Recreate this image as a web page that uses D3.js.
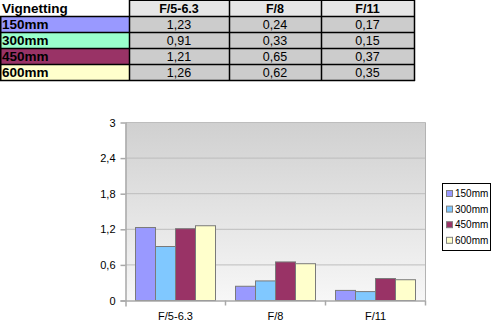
<!DOCTYPE html>
<html><head><meta charset="utf-8">
<script src="https://cdn.jsdelivr.net/npm/d3@7"></script>
<style>body{margin:0;background:#fff}svg{display:block}text{font-family:"Liberation Sans",Arial,sans-serif}</style>
</head><body>
<script>
const tableTitle = "Vignetting";
const categories = ["F/5-6.3", "F/8", "F/11"];
const seriesNames = ["150mm", "300mm", "450mm", "600mm"];
const values150 = [1.23, 0.24, 0.17];
const values300 = [0.91, 0.33, 0.15];
const values450 = [1.21, 0.65, 0.37];
const values600 = [1.26, 0.62, 0.35];
const yTicks = [0, 0.6, 1.2, 1.8, 2.4, 3];
const rowColors = ["#9999ff", "#99ffcc", "#993366", "#ffffcc"];
const barColors = ["#9999ff", "#80c8ff", "#993366", "#ffffcc"];

const seriesValues = [values150, values300, values450, values600];
const fmt = v => d3.format(".2f")(v).replace(".", ",");
const tickFmt = v => String(+v.toFixed(1)).replace(".", ",");

const svg = d3.select("body").append("svg").attr("width", 501).attr("height", 332);

// ---- table ----
const colX = [0, 129, 229, 321, 414];
const rowY = [0, 16, 32, 48, 64, 80];
const tg = svg.append("g");
// header
tg.append("rect").attr("x", 0).attr("y", 0).attr("width", 129).attr("height", 16).attr("fill", "#fff");
categories.forEach((c, i) => {
  tg.append("rect").attr("x", colX[i + 1]).attr("y", 0).attr("width", colX[i + 2] - colX[i + 1]).attr("height", 16).attr("fill", "#e6e6e6");
  tg.append("text").attr("x", (colX[i + 1] + colX[i + 2]) / 2).attr("y", 12.5).attr("text-anchor", "middle")
    .attr("font-size", 12.5).attr("font-weight", "bold").text(c);
});
tg.append("text").attr("x", 2).attr("y", 13).attr("font-size", 13.5).attr("font-weight", "bold").text(tableTitle);
seriesNames.forEach((s, r) => {
  const y0 = rowY[r + 1];
  tg.append("rect").attr("x", 0).attr("y", y0).attr("width", 129).attr("height", 16).attr("fill", rowColors[r]);
  tg.append("text").attr("x", 2).attr("y", y0 + 13).attr("font-size", 13.5).attr("font-weight", "bold").attr("fill", "#000").text(s);
  categories.forEach((c, i) => {
    tg.append("rect").attr("x", colX[i + 1]).attr("y", y0).attr("width", colX[i + 2] - colX[i + 1]).attr("height", 16).attr("fill", "#cccccc");
    tg.append("text").attr("x", (colX[i + 1] + colX[i + 2]) / 2).attr("y", y0 + 13).attr("text-anchor", "middle")
      .attr("font-size", 12.5).text(fmt(seriesValues[r][i]));
  });
});
// borders
const bs = "#000";
tg.append("line").attr("x1", 129).attr("x2", 415).attr("y1", 0.5).attr("y2", 0.5).attr("stroke", bs);
rowY.slice(1).forEach(y => tg.append("line").attr("x1", 0).attr("x2", 415).attr("y1", y + 0.5).attr("y2", y + 0.5).attr("stroke", bs).attr("stroke-width", 1.5));
tg.append("line").attr("x1", 0.75).attr("x2", 0.75).attr("y1", 16).attr("y2", 81).attr("stroke", bs).attr("stroke-width", 1.5);
colX.slice(1).forEach(x => tg.append("line").attr("x1", x + 0.5).attr("x2", x + 0.5).attr("y1", 0).attr("y2", 81).attr("stroke", bs).attr("stroke-width", 1.5));

// ---- chart ----
const L = 125.5, R = 425.5, T = 122.5, B = 300.5;
const y = d3.scaleLinear().domain([0, 3]).range([B, T]);
const x0 = d3.scaleBand().domain(categories).range([L, R]).paddingInner(0.2).paddingOuter(0.1);
const xCat = d3.scaleBand().domain(categories).range([L, R]);
const x1 = d3.scaleBand().domain(seriesNames).range([0, x0.bandwidth()]);

const defs = svg.append("defs");
const grad = defs.append("linearGradient").attr("id", "bg").attr("x1", 0).attr("x2", 0).attr("y1", 0).attr("y2", 1);
grad.append("stop").attr("offset", "0%").attr("stop-color", "#d0d0d0");
grad.append("stop").attr("offset", "100%").attr("stop-color", "#f7f7f7");
svg.append("rect").attr("x", L).attr("y", T).attr("width", R - L).attr("height", B - T).attr("fill", "url(#bg)");

// gridlines
svg.append("g").selectAll("line").data(yTicks.filter(t => t > 0)).join("line")
  .attr("x1", L).attr("x2", R).attr("y1", d => y(d)).attr("y2", d => y(d))
  .attr("stroke", "#bdbdbd").attr("stroke-width", 1);
// right border
svg.append("line").attr("x1", R).attr("x2", R).attr("y1", T).attr("y2", B).attr("stroke", "#b3b3b3");

// bars
const bars = svg.append("g");
categories.forEach((c, ci) => {
  seriesNames.forEach((s, si) => {
    const v = seriesValues[si][ci];
    bars.append("rect")
      .attr("x", x0(c) + x1(s)).attr("y", y(v))
      .attr("width", x1.bandwidth()).attr("height", B - y(v))
      .attr("fill", barColors[si]).attr("stroke", "#7a7a7a").attr("stroke-width", 1);
  });
});

// y axis
const yAxis = svg.append("g").attr("transform", `translate(${L},0)`)
  .call(d3.axisLeft(y).tickValues(yTicks).tickFormat(tickFmt).tickSize(5).tickPadding(5));
yAxis.select(".domain").attr("d", `M0.5,${T}V${B + 6}`).attr("stroke", "#a8a8a8").attr("stroke-width", 1.5);
yAxis.selectAll(".tick line").attr("stroke", "#a8a8a8").attr("stroke-width", 1.5);
yAxis.selectAll(".tick text").attr("font-size", 11).attr("fill", "#000").attr("font-family", "Liberation Sans, Arial, sans-serif");

// x axis
const xAxis = svg.append("g").attr("transform", `translate(0,${B})`)
  .call(d3.axisBottom(xCat).tickSize(0).tickPadding(12));
xAxis.select(".domain").attr("d", `M${L - 5},0.5H${R}`).attr("stroke", "#a8a8a8").attr("stroke-width", 1.5);
xAxis.selectAll(".tick text").attr("font-size", 11).attr("fill", "#000").attr("font-family", "Liberation Sans, Arial, sans-serif");
svg.append("g").selectAll("line").data(categories.slice(1).concat(["_end"])).join("line")
  .attr("x1", d => d === "_end" ? R : xCat(d)).attr("x2", d => d === "_end" ? R : xCat(d))
  .attr("y1", B).attr("y2", B + 5).attr("stroke", "#a8a8a8").attr("stroke-width", 1.5);

// legend
const lg = svg.append("g");
lg.append("rect").attr("x", 442.5).attr("y", 183.5).attr("width", 48).attr("height", 67)
  .attr("fill", "#fff").attr("stroke", "#000").attr("stroke-width", 1);
seriesNames.forEach((s, i) => {
  const cy = 193.5 + i * 15.6;
  lg.append("rect").attr("x", 446.5).attr("y", cy - 3).attr("width", 6).attr("height", 6)
    .attr("fill", barColors[i]).attr("stroke", "#808080");
  lg.append("text").attr("x", 455).attr("y", cy + 3.5).attr("font-size", 10).text(s);
});
</script>
</body></html>
